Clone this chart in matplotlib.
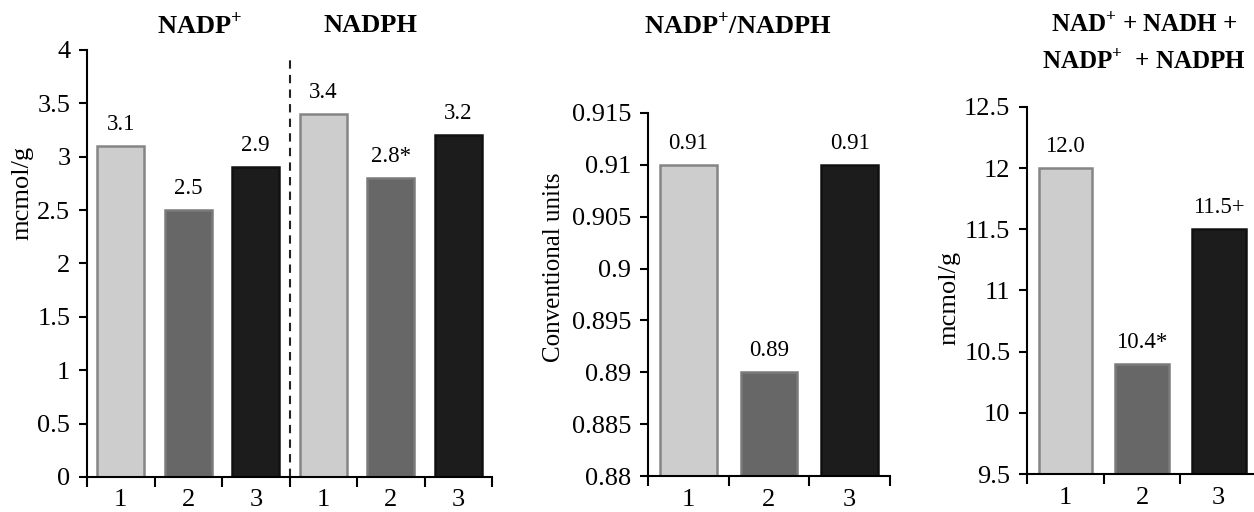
import matplotlib
matplotlib.use("Agg")
import matplotlib.pyplot as plt
from matplotlib.ticker import FixedLocator, FuncFormatter, NullFormatter, MultipleLocator

plt.rcParams['font.family'] = ['Liberation Serif', 'DejaVu Serif']
plt.rcParams['mathtext.fontset'] = 'custom'
plt.rcParams['mathtext.rm'] = 'Liberation Serif'
plt.rcParams['mathtext.bf'] = 'Liberation Serif:bold'

# data
groups = ['1', '2', '3']
nadp = [3.1, 2.5, 2.9]
nadp_lbl = ['3.1', '2.5', '2.9']
nadph = [3.4, 2.8, 3.2]
nadph_lbl = ['3.4', '2.8*', '3.2']
ratio = [0.91, 0.89, 0.91]
ratio_lbl = ['0.91', '0.89', '0.91']
total = [12.0, 10.4, 11.5]
total_lbl = ['12.0', '10.4*', '11.5+']

fills = ['#cdcdcd', '#676767', '#1c1c1c']
edges = ['#858585', '#7a7a7a', '#111111']

TICK_FS = 19
VAL_FS = 16.5
TITLE_FS = 19

fig = plt.figure(figsize=(12.54, 5.12), dpi=100)


def style_axes(ax, n, ylim, ystep):
    for s in ['top', 'right']:
        ax.spines[s].set_visible(False)
    for s in ['left', 'bottom']:
        ax.spines[s].set_linewidth(1.5)
    ax.set_xlim(-0.5, n - 0.5)
    ax.set_ylim(*ylim)
    ax.yaxis.set_major_locator(MultipleLocator(ystep))
    ax.yaxis.set_major_formatter(FuncFormatter(lambda v, p: '%g' % round(v, 4)))
    # tick marks at the category boundaries, labels at the centres
    ax.xaxis.set_major_locator(FixedLocator([i - 0.5 for i in range(n + 1)]))
    ax.xaxis.set_major_formatter(NullFormatter())
    ax.xaxis.set_minor_locator(FixedLocator(list(range(n))))
    ax.tick_params(axis='x', which='major', length=7, width=1.5, direction='out')
    ax.tick_params(axis='x', which='minor', length=0, pad=9, labelsize=TICK_FS)
    ax.tick_params(axis='y', length=6, width=1.5, direction='out', labelsize=TICK_FS, pad=6)


def draw_bars(ax, x, vals, labels, ymin):
    for xi, v, lab, fc, ec in zip(x, vals, labels, fills, edges):
        ax.bar(xi, v - ymin, bottom=ymin, width=0.7, color=fc, edgecolor=ec, linewidth=1.8)
        ax.annotate(lab, (xi, v), xytext=(0, 8), textcoords='offset points',
                    ha='center', va='bottom', fontsize=VAL_FS)


# panel 1: NADP+ and NADPH
ax1 = fig.add_axes([0.0694, 0.0684, 0.323, 0.834])
style_axes(ax1, 6, (0, 4), 0.5)
draw_bars(ax1, [0, 1, 2], nadp, nadp_lbl, 0)
draw_bars(ax1, [3, 4, 5], nadph, nadph_lbl, 0)
ax1.xaxis.set_minor_formatter(FuncFormatter(lambda v, p: (groups + groups)[int(round(v))]))
ax1.axvline(2.5, ymin=0, ymax=0.985, color='#222222', linestyle=(0, (4, 3)), linewidth=1.5)
ax1.set_ylabel('mcmol/g', fontsize=19)
ax1.yaxis.set_label_coords(-0.133, 0.665)

# panel 2: ratio
ax2 = fig.add_axes([0.5167, 0.0703, 0.193, 0.709])
style_axes(ax2, 3, (0.88, 0.915), 0.005)
draw_bars(ax2, [0, 1, 2], ratio, ratio_lbl, 0.88)
ax2.xaxis.set_minor_formatter(FuncFormatter(lambda v, p: groups[int(round(v))]))
ax2.set_ylabel('Conventional units', fontsize=18)
ax2.yaxis.set_label_coords(-0.343, 0.576)

# panel 3: total pool
ax3 = fig.add_axes([0.819, 0.0742, 0.1834, 0.717])
style_axes(ax3, 3, (9.5, 12.5), 0.5)
draw_bars(ax3, [0, 1, 2], total, total_lbl, 9.5)
ax3.xaxis.set_minor_formatter(FuncFormatter(lambda v, p: groups[int(round(v))]))
ax3.set_ylabel('mcmol/g', fontsize=19)
ax3.yaxis.set_label_coords(-0.291, 0.48)

# titles
tkw = dict(ha='center', va='center', fontsize=TITLE_FS, fontweight='bold')
fig.text(200 / 1254, 1 - 25 / 512, r'NADP$^{\mathbf{+}}$', **tkw)
fig.text(370 / 1254, 1 - 25 / 512, 'NADPH', **tkw)
fig.text(738 / 1254, 1 - 25 / 512, r'NADP$^{\mathbf{+}}$/NADPH', **tkw)
tkw['fontsize'] = 18
fig.text(1144 / 1254, 1 - 25 / 512, r'NAD$^{\mathbf{+}}$ + NADH +', **tkw)
fig.text(1144 / 1254, 1 - 62 / 512, r'NADP$^{\mathbf{+}}$  + NADPH', **tkw)

fig.savefig('out.png', dpi=100)
